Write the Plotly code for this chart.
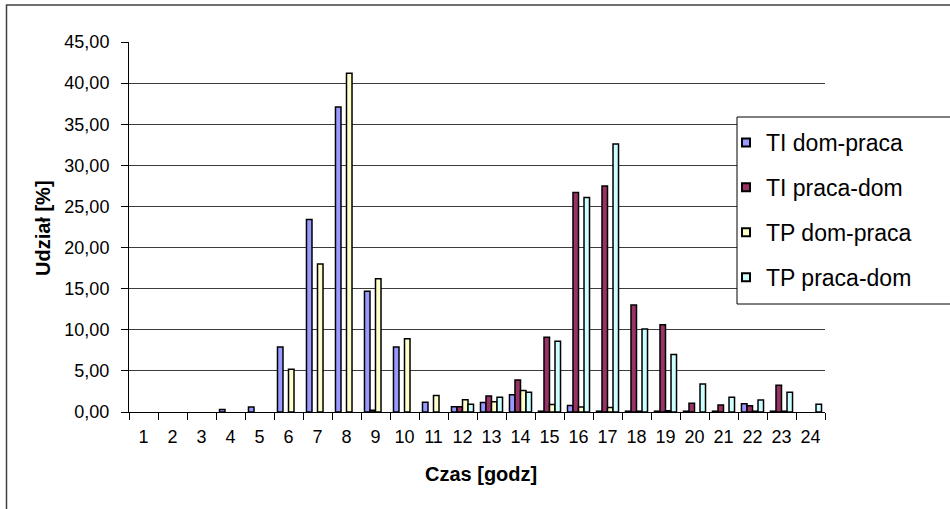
import plotly.graph_objects as go

# Hour of day (categories on the x axis)
hours = [str(h) for h in range(1, 25)]

# Share of trips [%] per hour, four series (None = no bar drawn)
ti_dom_praca = [None, None, None, 0.3, 0.6, 7.9, 23.4, 37.1, 14.7, 7.9, 1.2, 0.65,
                1.15, 2.1, 0.1, 0.8, 0.1, 0.1, 0.1, 0.1, 0.1, 1.0, 0.1, None]
ti_praca_dom = [None, None, None, None, None, None, None, None, 0.2, None, None, 0.65,
                1.95, 3.9, 9.1, 26.7, 27.5, 13.0, 10.6, 1.05, 0.85, 0.75, 3.25, None]
tp_dom_praca = [None, None, None, None, None, 5.2, 18.0, 41.2, 16.2, 8.9, 2.0, 1.5,
                1.25, 2.6, 0.9, 0.6, 0.55, 0.1, 0.15, None, None, 0.1, 0.1, None]
tp_praca_dom = [None, None, None, None, None, None, None, None, None, None, None, 0.95,
                1.8, 2.4, 8.6, 26.1, 32.6, 10.1, 7.0, 3.4, 1.8, 1.45, 2.4, 0.95]

series_names = ["TI dom-praca", "TI praca-dom", "TP dom-praca", "TP praca-dom"]
series_values = [ti_dom_praca, ti_praca_dom, tp_dom_praca, tp_praca_dom]
series_colors = ["#9999FF", "#993366", "#FFFFCC", "#CCFFFF"]

W, H = 950, 509
FONT = "Liberation Sans, Arial, sans-serif"

fig = go.Figure()
for name, vals, col in zip(series_names, series_values, series_colors):
    fig.add_trace(go.Bar(
        x=hours, y=vals, name=name, showlegend=False,
        marker=dict(color=col, line=dict(color="#000000", width=1.5)),
    ))

# legend keys: small outlined squares, one group per series for wider spacing
for i, (name, col) in enumerate(zip(series_names, series_colors)):
    fig.add_trace(go.Scatter(
        x=[None], y=[None], mode="markers", name=name, legendgroup=f"g{i}",
        marker=dict(symbol="square", size=8, color=col,
                    line=dict(color="#000000", width=2)),
    ))

# plot area in pixel terms
px_left, px_right, px_top, px_bottom = 129, 825, 42, 412

fig.update_layout(
    width=W, height=H,
    margin=dict(l=0, r=0, t=0, b=0, autoexpand=False),
    paper_bgcolor="white", plot_bgcolor="white",
    separators=", ",
    barmode="group", bargap=0.24, bargroupgap=0,
    font=dict(family=FONT, size=18, color="#000000"),
    showlegend=True,
    legend=dict(
        x=726 / W, y=1 - 121 / H, xanchor="left", yanchor="top",
        bgcolor="rgba(0,0,0,0)", borderwidth=0,
        font=dict(family=FONT, size=23, color="#000000"),
        tracegroupgap=12, itemwidth=30,
    ),
    xaxis=dict(
        domain=[px_left / W, px_right / W],
        type="category", range=[-0.5, 23.5], automargin=False,
        tickson="boundaries", ticks="outside", ticklen=7, tickcolor="#000000",
        showline=True, linecolor="#000000", linewidth=1,
        showgrid=False, ticklabelstandoff=8, tickangle=0,
        tickfont=dict(family=FONT, size=18),
    ),
    yaxis=dict(
        domain=[1 - px_bottom / H, 1 - px_top / H], automargin=False,
        range=[0, 45], dtick=5, tick0=0, tickformat=".2f",
        ticks="outside", ticklen=7, tickcolor="#000000",
        showline=True, linecolor="#000000", linewidth=1,
        showgrid=True, gridcolor="#3c3c3c", gridwidth=1, zeroline=False,
        ticklabelstandoff=8,
        tickfont=dict(family=FONT, size=18),
    ),
    shapes=[
        # outer chart frame
        dict(type="rect", xref="paper", yref="paper",
             x0=6.5 / W, x1=1.2, y0=-0.2, y1=1 - 5 / H,
             line=dict(color="#404040", width=1.5), fillcolor="rgba(0,0,0,0)",
             layer="below"),
        # legend box
        dict(type="rect", xref="paper", yref="paper",
             x0=737 / W, x1=1.1, y0=1 - 304 / H, y1=1 - 117 / H,
             line=dict(color="#000000", width=1), fillcolor="white",
             layer="above"),
    ],
    annotations=[
        dict(text="<b>Udział [%]</b>", xref="paper", yref="paper",
             x=43 / W, y=1 - 228 / H, xanchor="center", yanchor="middle",
             showarrow=False, textangle=-90,
             font=dict(family=FONT, size=20)),
        dict(text="<b>Czas [godz]</b>", xref="paper", yref="paper",
             x=481 / W, y=1 - 474 / H, xanchor="center", yanchor="middle",
             showarrow=False,
             font=dict(family=FONT, size=20)),
    ],
)

fig.write_html("out.html")
